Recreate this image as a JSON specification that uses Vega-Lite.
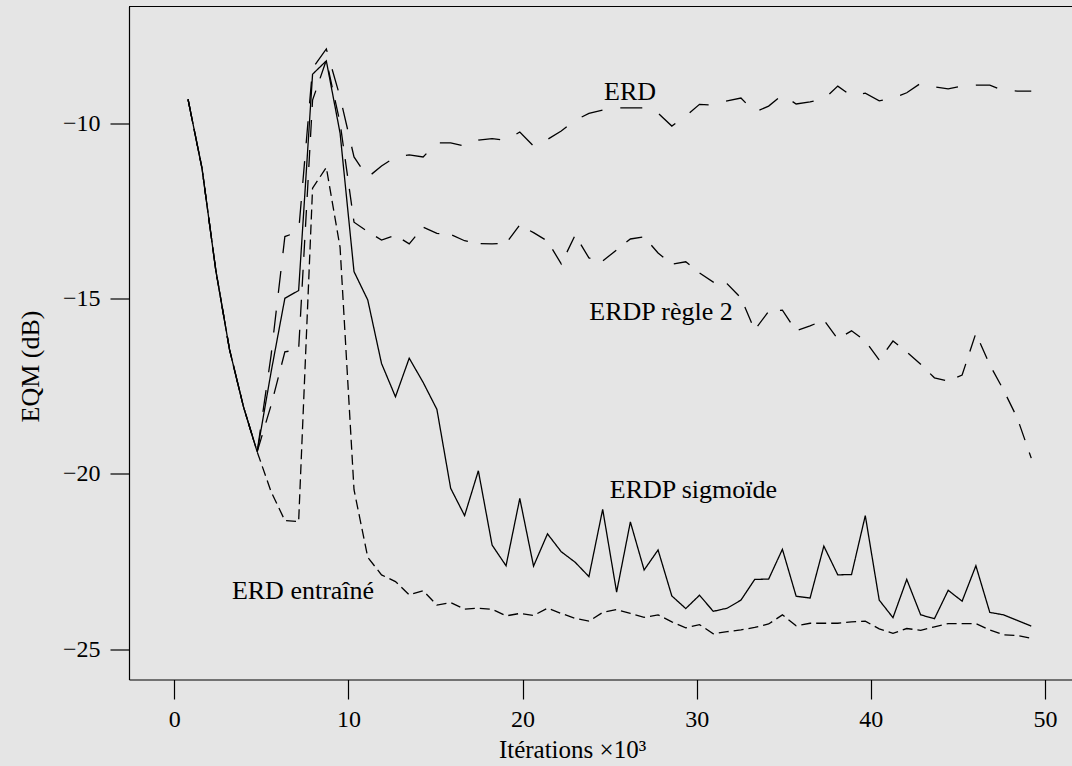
{
  "$schema": "https://vega.github.io/schema/vega-lite/v6.json",
  "width": 943,
  "height": 673,
  "autosize": {"type": "none"},
  "padding": {"left": 129, "top": 6.5, "right": 0, "bottom": 86.5},
  "background": "#e5e5e5",
  "config": {
    "view": {"stroke": null},
    "font": "Liberation Serif",
    "text": {"font": "Liberation Serif"},
    "axis": {
      "grid": false,
      "domainColor": "black",
      "domainWidth": 1.2,
      "tickColor": "black",
      "tickWidth": 1.2,
      "labelFont": "Liberation Serif",
      "labelFontSize": 24,
      "labelColor": "black",
      "labelFlush": false,
      "labelOverlap": false,
      "titleFont": "Liberation Serif",
      "titleFontWeight": "normal",
      "titleColor": "black"
    }
  },
  "layer": [
    {
      "data": {
        "values": [
          {"x": 0.79, "ERD": -9.32, "ERDP_regle2": -9.32, "ERDP_sigmoide": -9.32, "ERD_entraine": -9.32},
          {"x": 1.59, "ERD": -11.28, "ERDP_regle2": -11.28, "ERDP_sigmoide": -11.28, "ERD_entraine": -11.28},
          {"x": 2.38, "ERD": -14.18, "ERDP_regle2": -14.18, "ERDP_sigmoide": -14.18, "ERD_entraine": -14.18},
          {"x": 3.17, "ERD": -16.45, "ERDP_regle2": -16.45, "ERDP_sigmoide": -16.45, "ERD_entraine": -16.45},
          {"x": 3.97, "ERD": -18.08, "ERDP_regle2": -18.08, "ERDP_sigmoide": -18.08, "ERD_entraine": -18.08},
          {"x": 4.76, "ERD": -19.37, "ERDP_regle2": -19.37, "ERDP_sigmoide": -19.37, "ERD_entraine": -19.37},
          {"x": 5.56, "ERD": -16.61, "ERDP_regle2": -18.04, "ERDP_sigmoide": -17.09, "ERD_entraine": -20.51},
          {"x": 6.35, "ERD": -13.23, "ERDP_regle2": -16.52, "ERDP_sigmoide": -14.99, "ERD_entraine": -21.33},
          {"x": 7.14, "ERD": -13.09, "ERDP_regle2": -16.45, "ERDP_sigmoide": -14.77, "ERD_entraine": -21.36},
          {"x": 7.94, "ERD": -8.43, "ERDP_regle2": -9.34, "ERDP_sigmoide": -8.60, "ERD_entraine": -11.85},
          {"x": 8.73, "ERD": -7.88, "ERDP_regle2": -8.20, "ERDP_sigmoide": -8.22, "ERD_entraine": -11.26},
          {"x": 9.52, "ERD": -9.25, "ERDP_regle2": -9.99, "ERDP_sigmoide": -10.28, "ERD_entraine": -13.54},
          {"x": 10.32, "ERD": -10.96, "ERDP_regle2": -12.82, "ERDP_sigmoide": -14.23, "ERD_entraine": -20.45},
          {"x": 11.11, "ERD": -11.54, "ERDP_regle2": -13.09, "ERDP_sigmoide": -15.04, "ERD_entraine": -22.38},
          {"x": 11.90, "ERD": -11.22, "ERDP_regle2": -13.33, "ERDP_sigmoide": -16.85, "ERD_entraine": -22.88},
          {"x": 12.70, "ERD": -10.96, "ERDP_regle2": -13.19, "ERDP_sigmoide": -17.80, "ERD_entraine": -23.07},
          {"x": 13.49, "ERD": -10.90, "ERDP_regle2": -13.44, "ERDP_sigmoide": -16.70, "ERD_entraine": -23.45},
          {"x": 14.29, "ERD": -10.96, "ERDP_regle2": -12.96, "ERDP_sigmoide": -17.39, "ERD_entraine": -23.33},
          {"x": 15.08, "ERD": -10.56, "ERDP_regle2": -13.14, "ERDP_sigmoide": -18.16, "ERD_entraine": -23.74},
          {"x": 15.87, "ERD": -10.56, "ERDP_regle2": -13.17, "ERDP_sigmoide": -20.41, "ERD_entraine": -23.67},
          {"x": 16.67, "ERD": -10.65, "ERDP_regle2": -13.35, "ERDP_sigmoide": -21.19, "ERD_entraine": -23.86},
          {"x": 17.46, "ERD": -10.48, "ERDP_regle2": -13.43, "ERDP_sigmoide": -19.91, "ERD_entraine": -23.83},
          {"x": 18.25, "ERD": -10.44, "ERDP_regle2": -13.44, "ERDP_sigmoide": -22.03, "ERD_entraine": -23.86},
          {"x": 19.05, "ERD": -10.48, "ERDP_regle2": -13.42, "ERDP_sigmoide": -22.62, "ERD_entraine": -24.05},
          {"x": 19.84, "ERD": -10.25, "ERDP_regle2": -12.90, "ERDP_sigmoide": -20.70, "ERD_entraine": -23.98},
          {"x": 20.63, "ERD": -10.65, "ERDP_regle2": -13.12, "ERDP_sigmoide": -22.63, "ERD_entraine": -24.04},
          {"x": 21.43, "ERD": -10.46, "ERDP_regle2": -13.36, "ERDP_sigmoide": -21.71, "ERD_entraine": -23.83},
          {"x": 22.22, "ERD": -10.22, "ERDP_regle2": -14.01, "ERDP_sigmoide": -22.22, "ERD_entraine": -23.98},
          {"x": 23.02, "ERD": -9.91, "ERDP_regle2": -13.19, "ERDP_sigmoide": -22.52, "ERD_entraine": -24.12},
          {"x": 23.81, "ERD": -9.72, "ERDP_regle2": -13.84, "ERDP_sigmoide": -22.93, "ERD_entraine": -24.20},
          {"x": 24.60, "ERD": -9.62, "ERDP_regle2": -13.93, "ERDP_sigmoide": -21.01, "ERD_entraine": -23.95},
          {"x": 25.40, "ERD": -9.56, "ERDP_regle2": -13.61, "ERDP_sigmoide": -23.37, "ERD_entraine": -23.87},
          {"x": 26.19, "ERD": -9.56, "ERDP_regle2": -13.30, "ERDP_sigmoide": -21.37, "ERD_entraine": -23.98},
          {"x": 26.98, "ERD": -9.56, "ERDP_regle2": -13.24, "ERDP_sigmoide": -22.74, "ERD_entraine": -24.09},
          {"x": 27.78, "ERD": -9.71, "ERDP_regle2": -13.70, "ERDP_sigmoide": -22.17, "ERD_entraine": -24.02},
          {"x": 28.57, "ERD": -10.08, "ERDP_regle2": -14.02, "ERDP_sigmoide": -23.48, "ERD_entraine": -24.22},
          {"x": 29.37, "ERD": -9.79, "ERDP_regle2": -13.95, "ERDP_sigmoide": -23.84, "ERD_entraine": -24.39},
          {"x": 30.16, "ERD": -9.46, "ERDP_regle2": -14.27, "ERDP_sigmoide": -23.46, "ERD_entraine": -24.30},
          {"x": 30.95, "ERD": -9.48, "ERDP_regle2": -14.53, "ERDP_sigmoide": -23.92, "ERD_entraine": -24.56},
          {"x": 31.75, "ERD": -9.36, "ERDP_regle2": -14.58, "ERDP_sigmoide": -23.83, "ERD_entraine": -24.50},
          {"x": 32.54, "ERD": -9.28, "ERDP_regle2": -14.98, "ERDP_sigmoide": -23.60, "ERD_entraine": -24.45},
          {"x": 33.33, "ERD": -9.68, "ERDP_regle2": -15.90, "ERDP_sigmoide": -23.01, "ERD_entraine": -24.38},
          {"x": 34.13, "ERD": -9.51, "ERDP_regle2": -15.36, "ERDP_sigmoide": -23.00, "ERD_entraine": -24.28},
          {"x": 34.92, "ERD": -9.19, "ERDP_regle2": -15.33, "ERDP_sigmoide": -22.15, "ERD_entraine": -24.02},
          {"x": 35.71, "ERD": -9.45, "ERDP_regle2": -15.92, "ERDP_sigmoide": -23.49, "ERD_entraine": -24.33},
          {"x": 36.51, "ERD": -9.39, "ERDP_regle2": -15.78, "ERDP_sigmoide": -23.54, "ERD_entraine": -24.26},
          {"x": 37.30, "ERD": -9.31, "ERDP_regle2": -15.61, "ERDP_sigmoide": -22.06, "ERD_entraine": -24.26},
          {"x": 38.10, "ERD": -8.94, "ERDP_regle2": -16.15, "ERDP_sigmoide": -22.88, "ERD_entraine": -24.26},
          {"x": 38.89, "ERD": -9.22, "ERDP_regle2": -15.92, "ERDP_sigmoide": -22.87, "ERD_entraine": -24.22},
          {"x": 39.68, "ERD": -9.14, "ERDP_regle2": -16.21, "ERDP_sigmoide": -21.19, "ERD_entraine": -24.20},
          {"x": 40.48, "ERD": -9.36, "ERDP_regle2": -16.75, "ERDP_sigmoide": -23.60, "ERD_entraine": -24.42},
          {"x": 41.27, "ERD": -9.28, "ERDP_regle2": -16.21, "ERDP_sigmoide": -24.10, "ERD_entraine": -24.55},
          {"x": 42.06, "ERD": -9.13, "ERDP_regle2": -16.52, "ERDP_sigmoide": -23.01, "ERD_entraine": -24.41},
          {"x": 42.86, "ERD": -8.86, "ERDP_regle2": -16.87, "ERDP_sigmoide": -24.02, "ERD_entraine": -24.46},
          {"x": 43.65, "ERD": -8.96, "ERDP_regle2": -17.26, "ERDP_sigmoide": -24.13, "ERD_entraine": -24.36},
          {"x": 44.44, "ERD": -9.02, "ERDP_regle2": -17.35, "ERDP_sigmoide": -23.32, "ERD_entraine": -24.27},
          {"x": 45.24, "ERD": -8.94, "ERDP_regle2": -17.18, "ERDP_sigmoide": -23.63, "ERD_entraine": -24.27},
          {"x": 46.03, "ERD": -8.91, "ERDP_regle2": -15.99, "ERDP_sigmoide": -22.62, "ERD_entraine": -24.27},
          {"x": 46.83, "ERD": -8.91, "ERDP_regle2": -16.89, "ERDP_sigmoide": -23.95, "ERD_entraine": -24.45},
          {"x": 47.62, "ERD": -9.07, "ERDP_regle2": -17.61, "ERDP_sigmoide": -24.02, "ERD_entraine": -24.59},
          {"x": 48.41, "ERD": -9.08, "ERDP_regle2": -18.41, "ERDP_sigmoide": -24.18, "ERD_entraine": -24.61},
          {"x": 49.21, "ERD": -9.08, "ERDP_regle2": -19.55, "ERDP_sigmoide": -24.34, "ERD_entraine": -24.69}
        ]
      },
      "transform": [
        {"fold": ["ERD", "ERDP_regle2", "ERD_entraine", "ERDP_sigmoide"], "as": ["serie", "y"]}
      ],
      "mark": {"type": "line", "color": "black", "strokeWidth": 1.3},
      "encoding": {
        "x": {
          "field": "x",
          "type": "quantitative",
          "title": "Itérations ×10³",
          "scale": {"domain": [-2.601, 51.55], "nice": false, "zero": false},
          "axis": {
            "values": [0, 10, 20, 30, 40, 50],
            "tickSize": 19.5,
            "labelBaseline": "alphabetic",
            "labelPadding": 27,
            "titleFontSize": 25,
            "titleX": 443,
            "titleY": 78,
            "titleAlign": "center",
            "titleBaseline": "alphabetic"
          }
        },
        "y": {
          "field": "y",
          "type": "quantitative",
          "title": "EQM (dB)",
          "scale": {"domain": [-25.864, -6.669], "nice": false, "zero": false},
          "axis": {
            "values": [-25, -20, -15, -10],
            "tickSize": 19,
            "labelBaseline": "middle",
            "labelPadding": 10,
            "titleFontSize": 26,
            "titleAngle": -90,
            "titleX": -90.5,
            "titleY": 359.5,
            "titleAlign": "center",
            "titleBaseline": "alphabetic"
          }
        },
        "strokeDash": {
          "field": "serie",
          "type": "nominal",
          "scale": {
            "domain": ["ERD", "ERDP_regle2", "ERD_entraine", "ERDP_sigmoide"],
            "range": [[22, 18], [17, 13], [10, 5], [1, 0]]
          },
          "legend": null
        }
      }
    },
    {
      "data": {"values": [{}]},
      "mark": {"type": "rule", "color": "black", "strokeWidth": 1.2},
      "encoding": {"y": {"datum": -6.669, "title": "EQM (dB)"}}
    },
    {
      "data": {
        "values": [
          {"label": "ERD", "x": 26.17, "y": -9.335},
          {"label": "ERDP règle 2", "x": 27.95, "y": -15.61},
          {"label": "ERDP sigmoïde", "x": 29.81, "y": -20.687},
          {"label": "ERD entraîné", "x": 7.39, "y": -23.568}
        ]
      },
      "mark": {"type": "text", "font": "Liberation Serif", "fontSize": 26, "align": "center", "baseline": "alphabetic", "color": "black"},
      "encoding": {
        "x": {"field": "x", "type": "quantitative", "title": "Itérations ×10³"},
        "y": {"field": "y", "type": "quantitative", "title": "EQM (dB)"},
        "text": {"field": "label"}
      }
    }
  ]
}
